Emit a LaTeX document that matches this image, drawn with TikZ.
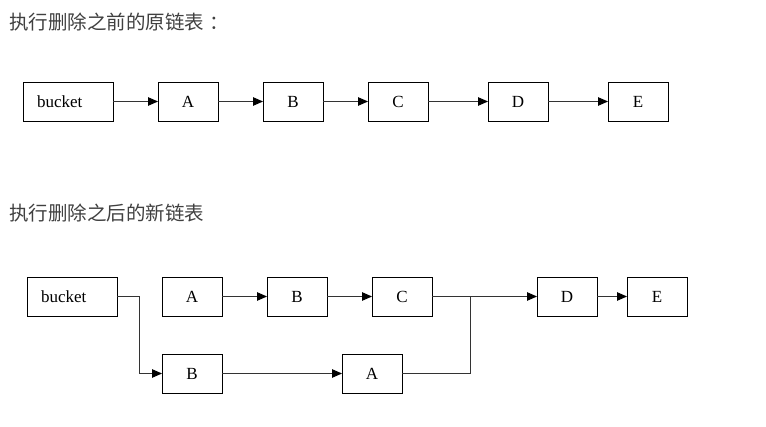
\documentclass[tikz,border=0pt]{standalone}
\usepackage{fontspec}
\setmainfont{Liberation Serif}
\newfontfamily\cjk{Noto Sans CJK SC}
\usetikzlibrary{positioning,arrows.meta}

\begin{document}
\begin{tikzpicture}[x=1pt, y=-1pt,
      cell/.style={draw, line width=0.9pt, minimum width=60pt, minimum height=39pt,
                   inner sep=0pt, outer sep=0pt, font=\fontsize{17}{17}\selectfont},
      head/.style={cell, minimum width=90pt, text width=62pt, inner xsep=14pt, align=left},
      title/.style={anchor=west, inner sep=0pt, text=black!75,
                    font=\cjk\fontsize{19.5}{20}\selectfont},
      link/.style={->, line width=1pt, draw=black!80},
      >={Triangle[length=10pt, width=8.5pt, color=black]}, node distance=45pt]
    \useasboundingbox (0,0) rectangle (766,427);
    % before removal
    \node[title] (t1) at (9,22.5) {执行删除之前的原链表\kern5pt：};
    \node[head] (bkt1) at (68,101.5) {bucket};
    \node[cell, right=of bkt1] (a1) {A};
    \node[cell, right=of a1] (b1) {B};
    \node[cell, right=of b1] (c1) {C};
    \node[cell, right=60pt of c1] (d1) {D};
    \node[cell, right=60pt of d1] (e1) {E};
    \draw[link] (bkt1) -- (a1);
    \draw[link] (a1) -- (b1);
    \draw[link] (b1) -- (c1);
    \draw[link] (c1) -- (d1);
    \draw[link] (d1) -- (e1);
    % after removal
    \node[title] (t2) at (9,213.5) {执行删除之后的新链表};
    \node[head] (bkt2) at (72,296.5) {bucket};
    \node[cell, right=of bkt2] (a2) {A};
    \node[cell, right=of a2] (b2) {B};
    \node[cell, right=of b2] (c2) {C};
    \node[cell, right=105pt of c2] (d2) {D};
    \node[cell, right=30pt of d2] (e2) {E};
    \node[cell, below=38pt of a2] (b3) {B};
    \node[cell, right=120pt of b3] (a3) {A};
    \coordinate (jn) at (470,296.5);
    \draw[link] (bkt2.east) -- ++(22,0) |- (b3);
    \draw[link] (b3) -- (a3);
    \draw[link] (a2) -- (b2);
    \draw[link] (b2) -- (c2);
    \draw[link] (c2) -- (d2);
    \draw[link] (d2) -- (e2);
    \draw[link, -] (a3) -| (jn);
  \end{tikzpicture}
\end{document}
